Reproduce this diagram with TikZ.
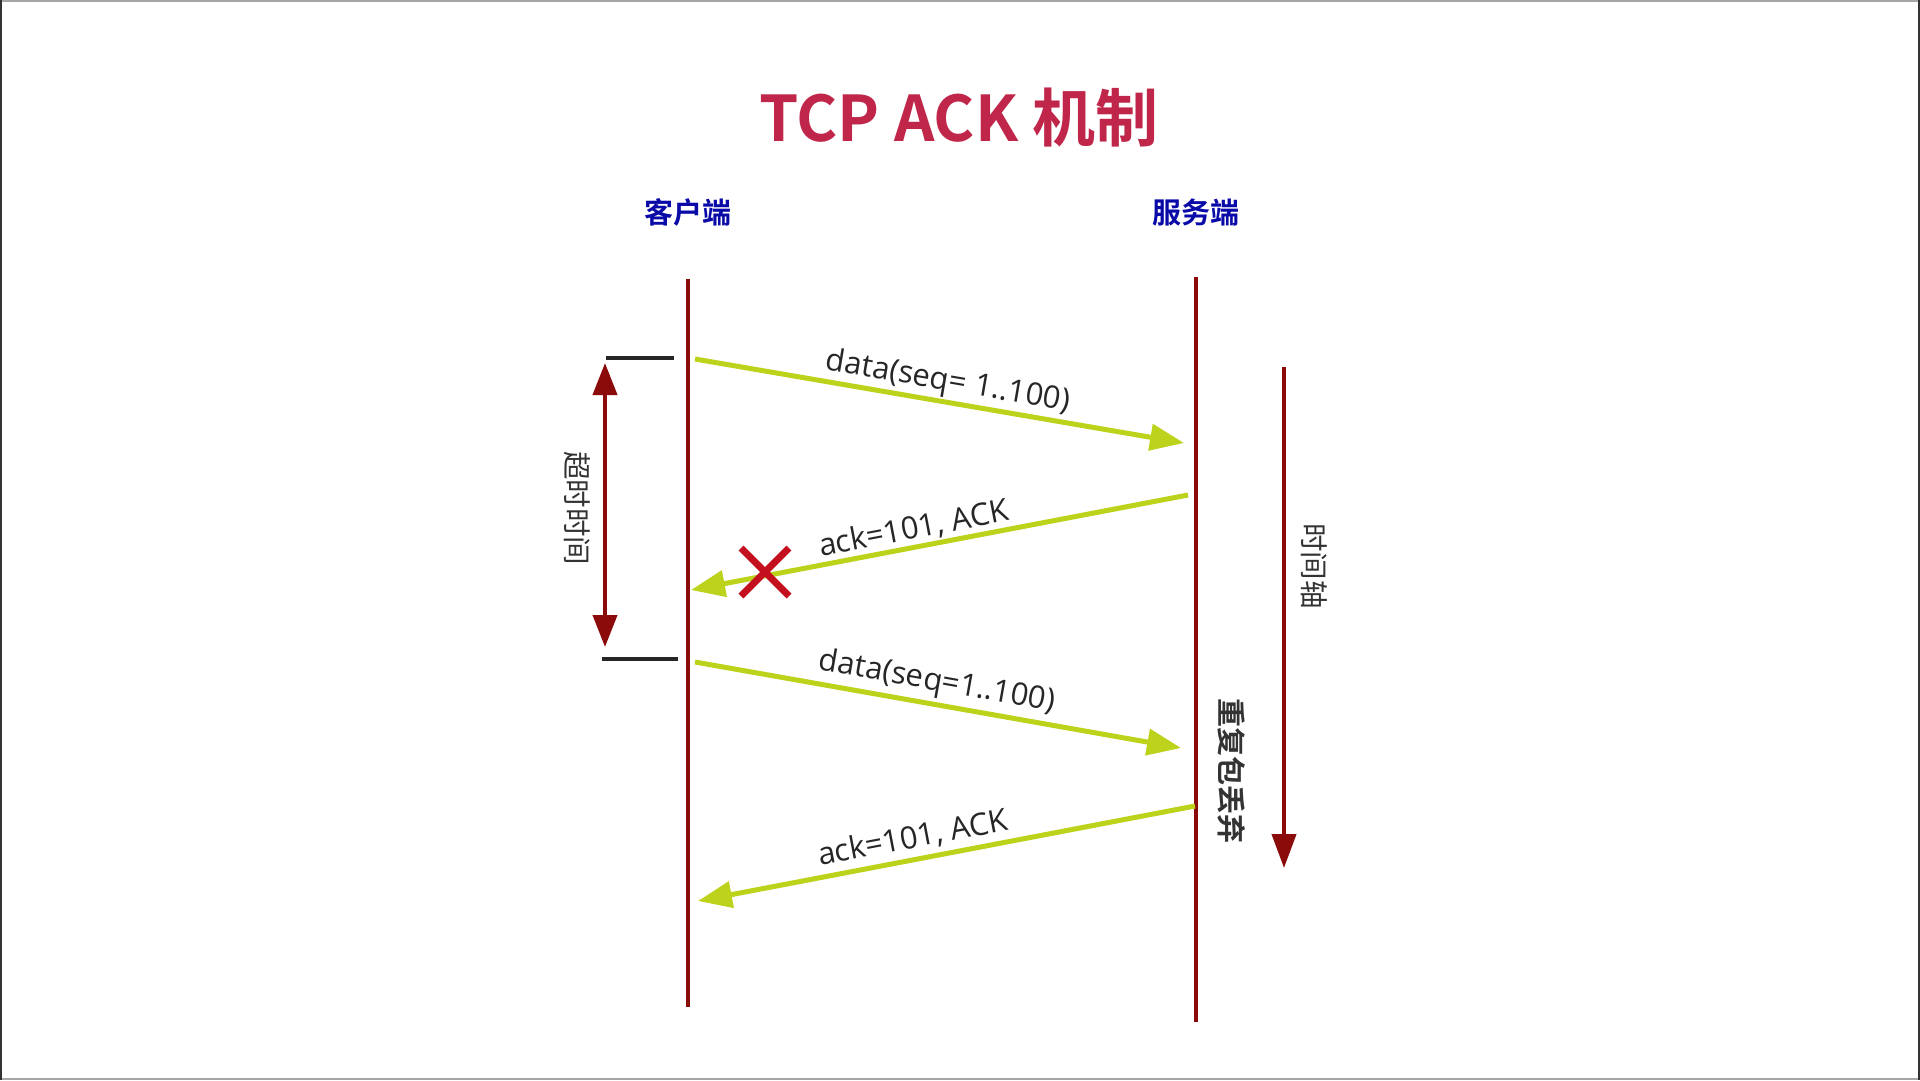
\documentclass[tikz,border=0pt]{standalone}
\usepackage{fontspec}
\setmainfont{Open Sans}
\newfontfamily\cjk{Noto Sans CJK SC}
\newfontfamily\cjkb{Noto Sans CJK SC Bold}
\usetikzlibrary{arrows.meta,calc}
\definecolor{titlered}{HTML}{C0264A}
\definecolor{lifered}{HTML}{8B0A0A}
\definecolor{msggreen}{HTML}{BDD21A}
\definecolor{hostblue}{HTML}{0A0AA8}
\definecolor{xred}{HTML}{C4101E}
\tikzset{
  lifeline/.style={draw=lifered, line width=3.5pt},
  msg/.style={draw=msggreen, line width=5pt, -{Triangle[length=34pt,width=26pt]}},
  msglabel/.style={font=\fontsize{31}{34}\selectfont, text=black!85, sloped, above, inner sep=2pt},
  tick/.style={draw=black!85, line width=4pt},
  redarrow/.style={draw=lifered, line width=4pt},
  vlabel/.style={font=\cjk\fontsize{28.5}{32}\selectfont, text=black!80, rotate=-90},
  hostlabel/.style={font=\cjkb\fontsize{29}{32}\selectfont, text=hostblue},
}
\begin{document}
\begin{tikzpicture}[x=1pt,y=-1pt]
\useasboundingbox (0,0) rectangle (1920,1080);
\fill[white] (0,0) rectangle (1920,1080);
\draw[black!35, line width=2pt] (0,1) -- (1920,1);
\draw[black!35, line width=2pt] (0,1079) -- (1920,1079);
\draw[black!80, line width=2pt] (1,0) -- (1,1080);
\draw[black!80, line width=2pt] (1919,0) -- (1919,1080);

% title
\node[font=\cjkb\fontsize{63}{70}\selectfont, text=titlered] (title) at (959,118) {TCP ACK 机制};

% hosts
\node[hostlabel] (client) at (688,212) {客户端};
\node[hostlabel] (server) at (1196,212) {服务端};

% lifelines
\coordinate (ctop) at (688,279);
\coordinate (cbot) at (688,1007);
\coordinate (stop) at (1196,277);
\coordinate (sbot) at (1196,1022);
\draw[lifeline] (ctop) -- (cbot);
\draw[lifeline] (stop) -- (sbot);

% message endpoints
\coordinate (m1s) at (695,359);
\coordinate (m1e) at (1184,443);
\coordinate (m2s) at (1188,495);
\coordinate (m2e) at (691,590);
\coordinate (m3s) at (695,662);
\coordinate (m3e) at (1181,748);
\coordinate (m4s) at (1195,806);
\coordinate (m4e) at (698,901);

\draw[msg] (m1s) -- node[msglabel, pos=0.51] {data(seq= 1..100)} (m1e);
\draw[msg] (m2s) -- node[msglabel, pos=0.545] {ack=101, ACK} (m2e);
\draw[msg] (m3s) -- node[msglabel, pos=0.49, yshift=2pt] {data(seq=1..100)} (m3e);
\draw[msg] (m4s) -- node[msglabel, pos=0.56, yshift=3pt] {ack=101, ACK} (m4e);

% lost mark
\coordinate (xc) at (765,572);
\draw[xred, line width=7pt] ($(xc)+(-24,-24)$) -- ($(xc)+(24,24)$);
\draw[xred, line width=7pt] ($(xc)+(-24,24)$) -- ($(xc)+(24,-24)$);

% timeout
\coordinate (t1l) at (606,358);
\coordinate (t1r) at (674,358);
\coordinate (t2l) at (602,659);
\coordinate (t2r) at (678,659);
\draw[tick] (t1l) -- (t1r);
\draw[tick] (t2l) -- (t2r);
\coordinate (ta) at (605,363);
\coordinate (tb) at (605,647);
\draw[redarrow, {Triangle[length=32pt,width=24pt]}-{Triangle[length=32pt,width=24pt]}] (ta) -- (tb);
\node[vlabel] (tolabel) at (577,508) {超时时间};

% time axis
\coordinate (axa) at (1284,367);
\coordinate (axb) at (1284,868);
\draw[redarrow, -{Triangle[length=34pt,width=24pt]}] (axa) -- (axb);
\node[vlabel] (axlabel) at (1314,566) {时间轴};

% duplicate discarded
\node[vlabel, font=\cjkb\fontsize{29}{32}\selectfont] (dup) at (1232,771) {重复包丢弃};
\end{tikzpicture}
\end{document}
